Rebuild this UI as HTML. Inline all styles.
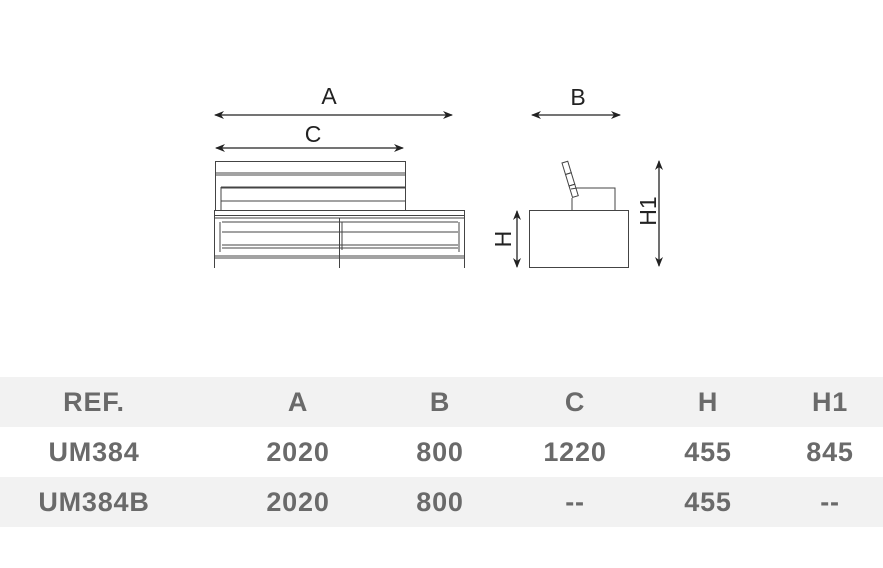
<!DOCTYPE html>
<html><head><style>
body{margin:0;width:883px;height:568px;background:#fff;overflow:hidden;font-family:"Liberation Sans",sans-serif}
.row{position:absolute;left:0;width:883px;height:50px;}
.c{position:absolute;top:0;line-height:50px;font-weight:bold;font-size:27px;letter-spacing:0.8px;color:#6a6a6a;transform:translateX(-50%);}
</style></head><body>
<svg width="883" height="568" style="position:absolute;left:0;top:0">
<defs><marker id="ar" markerWidth="10" markerHeight="8" refX="9" refY="4" orient="auto-start-reverse" markerUnits="userSpaceOnUse"><path d="M0,0 L10,4 L0,8 L3,4Z" fill="#222"/></marker></defs>
<g stroke="#222" stroke-width="1.3" fill="none">
<line x1="215" y1="115" x2="452" y2="115" marker-start="url(#ar)" marker-end="url(#ar)"/>
<line x1="216" y1="148" x2="403" y2="148" marker-start="url(#ar)" marker-end="url(#ar)"/>
<line x1="532" y1="115" x2="620" y2="115" marker-start="url(#ar)" marker-end="url(#ar)"/>
<line x1="517" y1="211" x2="517" y2="267" marker-start="url(#ar)" marker-end="url(#ar)"/>
<line x1="659" y1="161" x2="659" y2="266" marker-start="url(#ar)" marker-end="url(#ar)"/>
</g>
<g fill="#222" font-size="23" text-anchor="middle">
<text x="329" y="104">A</text><text x="313" y="142">C</text><text x="578" y="105">B</text>
<text transform="translate(511,239) rotate(-90)" x="0" y="0">H</text>
<text transform="translate(656,211) rotate(-90)" x="0" y="0">H1</text>
</g>
<g stroke="#444" stroke-width="1" fill="none">
<rect x="215.5" y="161.5" width="190" height="49"/>
<line x1="215" y1="173" x2="405" y2="173"/><line x1="215" y1="175" x2="405" y2="175"/>
<line x1="221" y1="187.5" x2="405" y2="187.5" stroke-width="2"/>
<line x1="221" y1="201" x2="405" y2="201"/>
<line x1="221" y1="187" x2="221" y2="210"/>
<rect x="214.5" y="210.5" width="250" height="5"/>
<line x1="214" y1="218" x2="465" y2="218"/>
<line x1="214.5" y1="215" x2="214.5" y2="268"/><line x1="464.5" y1="215" x2="464.5" y2="268"/>
<line x1="339.5" y1="218" x2="339.5" y2="268"/><line x1="342" y1="222" x2="342" y2="250"/>
<line x1="220" y1="222" x2="220" y2="252"/><line x1="459" y1="222" x2="459" y2="252"/>
<line x1="222" y1="222" x2="458" y2="222"/><line x1="222" y1="232" x2="458" y2="232"/>
<line x1="222" y1="245" x2="458" y2="245"/><line x1="222" y1="248" x2="458" y2="248"/>
<line x1="214" y1="256" x2="465" y2="256"/><line x1="214" y1="258" x2="465" y2="258"/>
<rect x="529.5" y="210.5" width="99" height="57"/>
<polyline points="571,189 577,188 615,188 615,210"/>
<line x1="572" y1="198" x2="572" y2="210"/>
<g transform="translate(562,163) rotate(-17)"><rect x="0" y="0" width="6" height="12"/><rect x="0" y="12" width="6" height="12"/><rect x="0" y="24" width="6" height="12"/></g>
</g>
</svg>
<div class="row" style="top:377px;background:#f2f2f2"><span class="c" style="left:94px">REF.</span><span class="c" style="left:298px">A</span><span class="c" style="left:440px">B</span><span class="c" style="left:575px">C</span><span class="c" style="left:708px">H</span><span class="c" style="left:830px">H1</span></div>
<div class="row" style="top:427px"><span class="c" style="left:94px">UM384</span><span class="c" style="left:298px">2020</span><span class="c" style="left:440px">800</span><span class="c" style="left:575px">1220</span><span class="c" style="left:708px">455</span><span class="c" style="left:830px">845</span></div>
<div class="row" style="top:477px;background:#f2f2f2"><span class="c" style="left:94px">UM384B</span><span class="c" style="left:298px">2020</span><span class="c" style="left:440px">800</span><span class="c" style="left:575px">--</span><span class="c" style="left:708px">455</span><span class="c" style="left:830px">--</span></div>
</body></html>
